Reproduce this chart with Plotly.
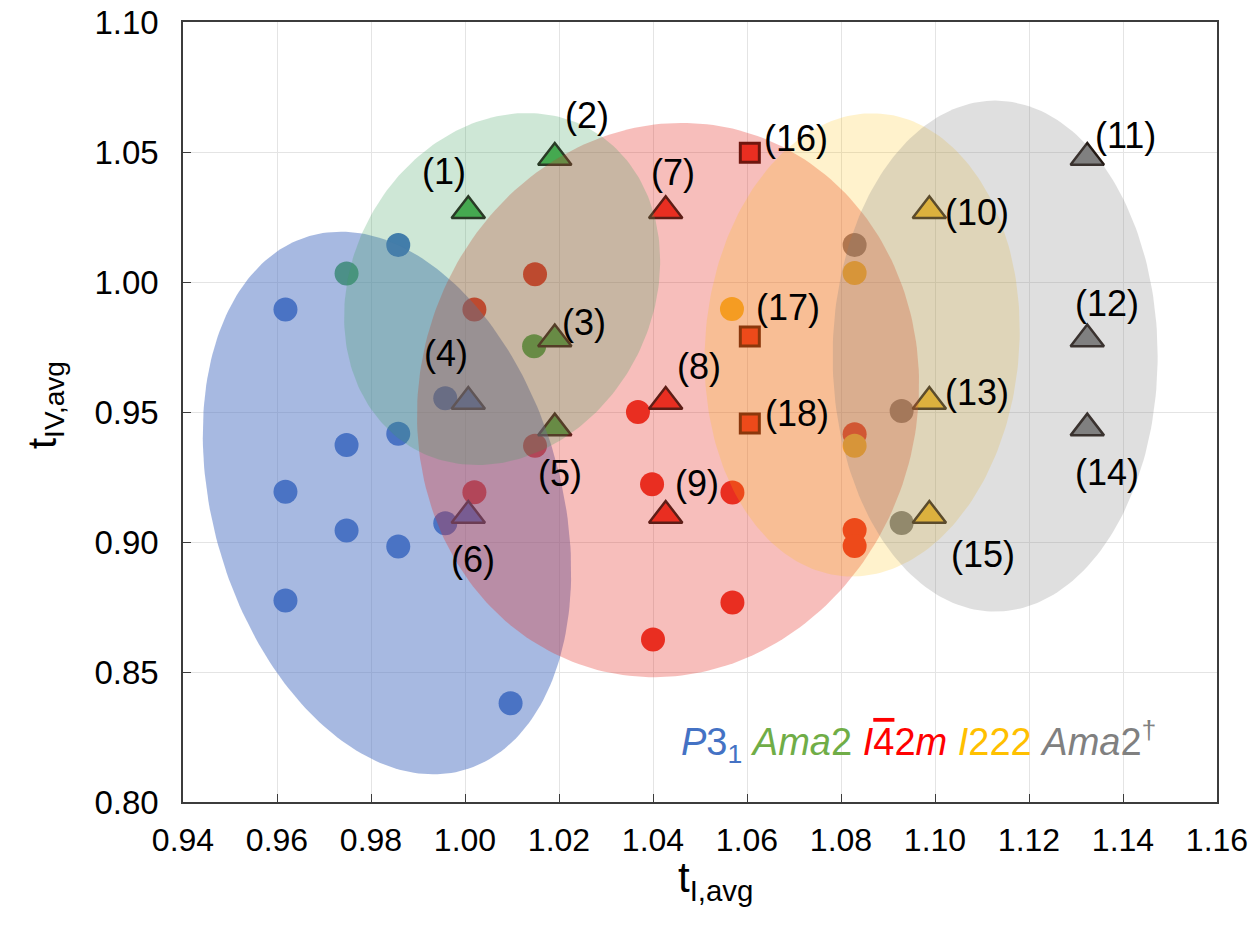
import numpy as np
import plotly.graph_objects as go

# ---------------- data ----------------
# circles (reference compounds), one list per space group
p31_x = [0.9618, 0.9858, 0.9748, 0.9858, 0.9958, 0.9618, 0.9748, 0.9958, 0.9858, 0.9618, 1.0097]
p31_y = [0.9894, 1.0142, 0.9373, 0.9416, 0.9553, 0.9193, 0.9044, 0.9072, 0.8983, 0.8775, 0.8380]
ama2_x = [0.9748, 1.0147]
ama2_y = [1.0033, 0.9753]
i42m_x = [1.0149, 1.0020, 1.0149, 1.0020, 1.0368, 1.0398, 1.0569, 1.0569, 1.0400, 1.0829, 1.0829, 1.0829]
i42m_y = [1.0030, 0.9894, 0.9370, 0.9191, 0.9500, 0.9222, 0.9190, 0.8767, 0.8625, 0.9414, 0.9046, 0.8985]
i222_x = [1.0568, 1.0829, 1.0829]
i222_y = [0.9896, 1.0035, 0.9370]
ama2d_x = [1.0829, 1.0929, 1.0929]
ama2d_y = [1.0142, 0.9504, 0.9073]

# numbered triangles (1)-(15)
tri_labels = ["(1)", "(2)", "(3)", "(4)", "(5)", "(6)", "(7)", "(8)", "(9)",
              "(10)", "(11)", "(12)", "(13)", "(14)", "(15)"]
tri_x = [1.0007, 1.0191, 1.0191, 1.0007, 1.0191, 1.0007, 1.0427, 1.0427, 1.0427,
         1.0988, 1.1324, 1.1324, 1.0988, 1.1324, 1.0988]
tri_y = [1.0274, 1.0479, 0.9781, 0.9540, 0.9438, 0.9102, 1.0274, 0.9540, 0.9102,
         1.0274, 1.0479, 0.9781, 0.9540, 0.9438, 0.9102]
tri_group = ["Ama2", "Ama2", "Ama2", "P31", "Ama2", "P31", "I42m", "I42m", "I42m",
             "I222", "Ama2d", "Ama2d", "I222", "Ama2d", "I222"]

# numbered squares (16)-(18)
sq_labels = ["(16)", "(17)", "(18)"]
sq_x = [1.0606, 1.0606, 1.0606]
sq_y = [1.0497, 0.9790, 0.9456]

# cluster ellipses: centre (data), semi-axes (px), tilt of major axis from vertical (deg)
ell_group = ["P31", "I42m", "Ama2", "I222", "Ama2d"]
ell_cx = [0.9834, 1.0432, 1.0079, 1.0845, 1.1128]
ell_cy = [0.9150, 0.9546, 0.9973, 0.9758, 0.9715]
ell_a = [278, 279, 182.5, 232, 255.5]
ell_b = [174, 249, 150.5, 157, 162.5]
ell_tilt = [-16.2, 14.7, 27.8, 4.6, 0.0]

x_ticks = [0.94, 0.96, 0.98, 1.00, 1.02, 1.04, 1.06, 1.08, 1.10, 1.12, 1.14, 1.16]
y_ticks = [0.80, 0.85, 0.90, 0.95, 1.00, 1.05, 1.10]

# ---------------- styling ----------------
W, H = 1252, 930
ML, MR, MT, MB = 183, 35, 22, 128
XR = [0.94, 1.16]
YR = [0.80, 1.10]
PW, PH = W - ML - MR, H - MT - MB
PXX = PW / (XR[1] - XR[0])
PXY = PH / (YR[1] - YR[0])


def paper_x(px):
    return (px - ML) / PW


def paper_y(py):
    return 1 - (py - MT) / PH


dot_color = {"P31": "rgb(68,114,196)", "Ama2": "rgb(72,172,76)", "I42m": "rgb(235,50,35)",
             "I222": "rgb(250,195,50)", "Ama2d": "rgb(128,128,128)"}
ell_color = {"P31": "rgba(80,115,195,0.5)", "I42m": "rgba(230,40,30,0.3)",
             "Ama2": "rgba(60,160,90,0.25)", "I222": "rgba(255,190,0,0.2)",
             "Ama2d": "rgba(128,128,128,0.25)"}

# label offsets in px (right, up) relative to the marker
tri_off = [(-24, 39), (32, 42), (29, 16), (-22, 48), (5, -45), (5, -44), (7, 38), (33, 35), (31, 32),
           (48, -2), (38, 22), (20, 35), (48, 9), (20, -44), (54, -39)]
sq_off = [(46, 14), (38, 29), (47, 10)]

FONT = "Liberation Sans, Arial, Helvetica, sans-serif"

fig = go.Figure()

# circles
for g, xs, ys in [("P31", p31_x, p31_y), ("Ama2", ama2_x, ama2_y), ("I42m", i42m_x, i42m_y),
                  ("I222", i222_x, i222_y), ("Ama2d", ama2d_x, ama2d_y)]:
    fig.add_trace(go.Scatter(x=xs, y=ys, mode="markers",
                             marker=dict(size=24, color=dot_color[g], line=dict(width=0)),
                             hoverinfo="x+y", showlegend=False))

# triangles
fig.add_trace(go.Scatter(x=tri_x, y=tri_y, mode="markers",
                         marker=dict(symbol="triangle-up", size=29,
                                     color=[dot_color[g] for g in tri_group],
                                     line=dict(width=2.5, color="rgb(35,25,20)")),
                         hoverinfo="x+y", showlegend=False))
# squares
fig.add_trace(go.Scatter(x=sq_x, y=sq_y, mode="markers",
                         marker=dict(symbol="square", size=19, color="rgb(235,50,35)",
                                     line=dict(width=3, color="rgb(60,15,8)")),
                         hoverinfo="x+y", showlegend=False))

# ellipses (drawn over the markers, translucent)
t = np.linspace(0, 2 * np.pi, 241)
for g, cx, cy, a, b, tl in zip(ell_group, ell_cx, ell_cy, ell_a, ell_b, ell_tilt):
    th = np.radians(tl)
    dx = a * np.cos(t) * np.sin(th) + b * np.sin(t) * np.cos(th)
    dy = -a * np.cos(t) * np.cos(th) + b * np.sin(t) * np.sin(th)
    fig.add_trace(go.Scatter(x=cx + dx / PXX, y=cy - dy / PXY, mode="lines",
                             fill="toself", fillcolor=ell_color[g],
                             line=dict(width=0, color="rgba(0,0,0,0)"),
                             hoverinfo="skip", showlegend=False))

annotations = []
for lab, x, y, (ox, oy) in zip(tri_labels + sq_labels, tri_x + sq_x, tri_y + sq_y, tri_off + sq_off):
    annotations.append(dict(x=x, y=y, xref="x", yref="y", text=lab, showarrow=False,
                            xshift=ox, yshift=oy, font=dict(family=FONT, size=36, color="black")))

legend_text = ("<span style='color:#4472C4'><i>P</i>3<sub>1</sub></span> "
               "<span style='color:#70AD47'><i>Ama</i>2</span> "
               "<span style='color:#FF0000'><i>I</i><span style='text-decoration:overline'>4</span>2<i>m</i></span> "
               "<span style='color:#FFC000'><i>I</i>222</span> "
               "<span style='color:#808080'><i>Ama</i>2<sup>\u2020</sup></span>")
annotations.append(dict(x=paper_x(918), y=paper_y(742),
                        xref="paper", yref="paper", text=legend_text, showarrow=False,
                        xanchor="center", yanchor="middle",
                        font=dict(family=FONT, size=38)))
# axis titles
annotations.append(dict(x=paper_x(715), y=paper_y(880), xref="paper", yref="paper",
                        text="t<sub>I,avg</sub>", showarrow=False,
                        xanchor="center", yanchor="middle",
                        font=dict(family=FONT, size=42, color="black")))
annotations.append(dict(x=paper_x(45), y=paper_y(405), xref="paper", yref="paper",
                        text="t<sub>IV,avg</sub>", showarrow=False, textangle=-90,
                        xanchor="center", yanchor="middle",
                        font=dict(family=FONT, size=40, color="black")))

axis_common = dict(showgrid=True, gridcolor="rgb(228,228,228)", gridwidth=1, zeroline=False,
                   showline=True, linecolor="rgb(60,60,60)", linewidth=1.5, mirror=True,
                   ticks="inside", ticklen=8, tickwidth=1.2, tickcolor="rgb(60,60,60)",
                   automargin=False, ticklabeloverflow="allow")

fig.update_layout(
    width=W, height=H,
    margin=dict(l=ML, r=MR, t=MT, b=MB),
    paper_bgcolor="white", plot_bgcolor="white",
    xaxis=dict(range=XR, tickvals=x_ticks, ticktext=[f"{v:.2f}" for v in x_ticks],
               tickfont=dict(family=FONT, size=32, color="black"), ticklabelstandoff=9,
               **axis_common),
    yaxis=dict(range=YR, tickvals=y_ticks, ticktext=[f"{v:.2f}" for v in y_ticks],
               tickfont=dict(family=FONT, size=33, color="black"), ticklabelstandoff=16,
               **axis_common),
    annotations=annotations,
    showlegend=False,
)

fig.write_html("out.html", config={"displayModeBar": False},
               post_script="document.body.style.margin='0px';document.body.style.overflow='hidden';")
